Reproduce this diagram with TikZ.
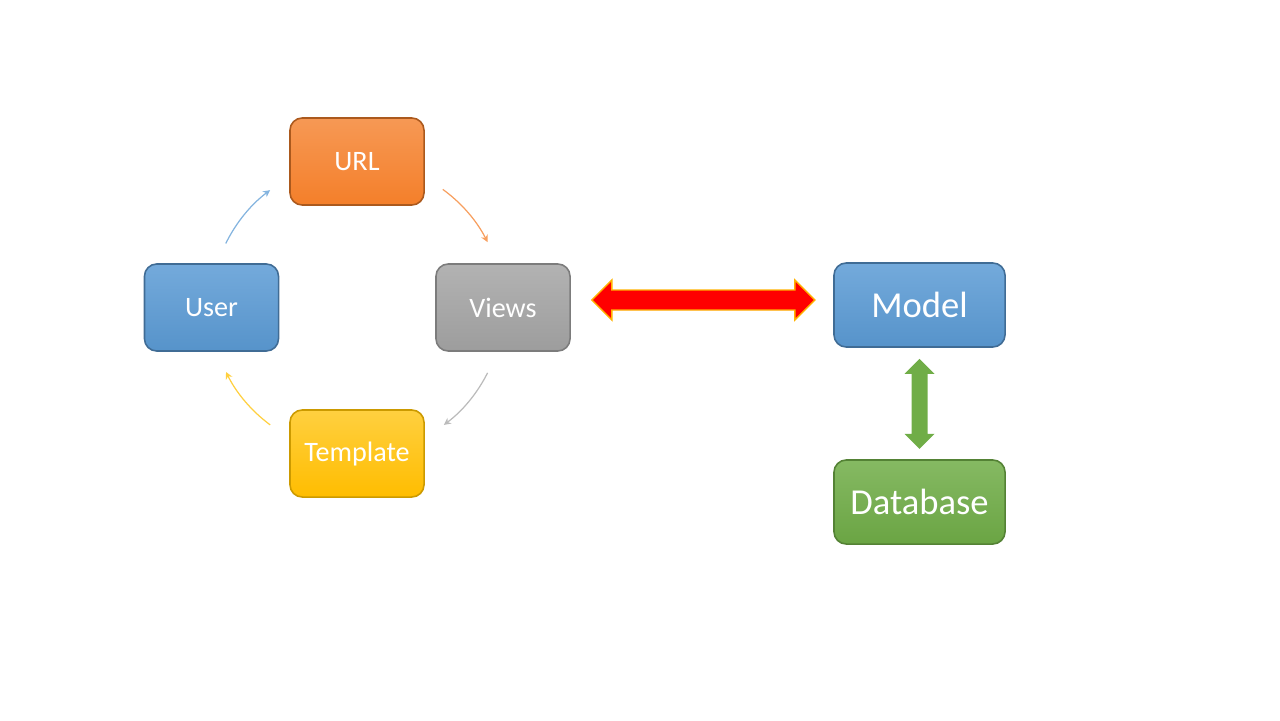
\documentclass[tikz,border=0pt]{standalone}
\usepackage{fontspec}
\setmainfont{Carlito}
\usepackage{tikz}
\usetikzlibrary{arrows.meta,calc,positioning}
\definecolor{blueacc}{HTML}{5B9BD5}
\definecolor{orangeacc}{HTML}{F47F2A}
\definecolor{grayacc}{HTML}{A5A5A5}
\definecolor{yellowacc}{HTML}{FFC000}
\definecolor{greenacc}{HTML}{70AD47}
\tikzset{
  box/.style={rectangle,rounded corners=3.5pt,minimum width=1.34cm,
    minimum height=0.87cm,text=white,line width=0.45pt,
    font=\fontsize{8}{9.6}\selectfont},
  bigbox/.style={box,minimum width=1.71cm,minimum height=0.84cm,
    font=\fontsize{10.4}{12}\selectfont},
  cyclearrow/.style={-{Stealth[length=2pt,width=2pt]},line width=0.35pt}
}
\begin{document}
\begin{tikzpicture}[x=0.01cm,y=0.01cm]
  \useasboundingbox (0,0) rectangle (1280,720);
  % cycle of boxes
  \coordinate (hub) at (357,412.5);
  \node[box,top color=orangeacc!80!white,bottom color=orangeacc,
    draw=orangeacc!70!black] (url) at (357,558.5) {URL};
  \node[box,top color=blueacc!85!white,bottom color=blueacc!95!black,
    draw=blueacc!70!black] (user) at (211.5,412.5) {User};
  \node[box,top color=grayacc!85!white,bottom color=grayacc!95!black,
    draw=grayacc!75!black] (views) at (503,412.5) {Views};
  \node[box,top color=yellowacc!75!white,bottom color=yellowacc!95!orange,
    draw=yellowacc!80!black] (template) at (357,266.5) {Template};
  \draw[cyclearrow,blueacc!75] (hub) ++(154:146) arc[start angle=154,end angle=126.5,radius=146];
  \draw[cyclearrow,orangeacc!75] (hub) ++(54:146) arc[start angle=54,end angle=26.6,radius=146];
  \draw[cyclearrow,grayacc!75] (hub) ++(-26.6:146) arc[start angle=-26.6,end angle=-53.5,radius=146];
  \draw[cyclearrow,yellowacc!75] (hub) ++(-126.5:146) arc[start angle=-126.5,end angle=-153.8,radius=146];
  % model and database
  \node[bigbox,top color=blueacc!85!white,bottom color=blueacc!95!black,
    draw=blueacc!70!black] (model) at (919.5,415) {Model};
  \node[bigbox,top color=greenacc!85!white,bottom color=greenacc!95!black,
    draw=greenacc!75!black] (db) at (919.5,218) {Database};
  % views <-> model
  \coordinate (rl) at ($(views.east)+(21,7.5)$);
  \filldraw[fill=red,draw=orange!60!yellow,line width=0.4pt,line join=miter]
    (rl) -- ++(20,20) -- ++(0,-10) -- ++(183,0) -- ++(0,10) -- ++(20,-20)
    -- ++(-20,-20) -- ++(0,10) -- ++(-183,0) -- ++(0,-10) -- cycle;
  % model <-> database
  \coordinate (gt) at ($(model.south)+(0,-11)$);
  \fill[greenacc]
    (gt) -- ++(15,-15) -- ++(-7,0) -- ++(0,-60) -- ++(7,0) -- ++(-15,-15)
    -- ++(-15,15) -- ++(7,0) -- ++(0,60) -- ++(-7,0) -- cycle;
\end{tikzpicture}
\end{document}
